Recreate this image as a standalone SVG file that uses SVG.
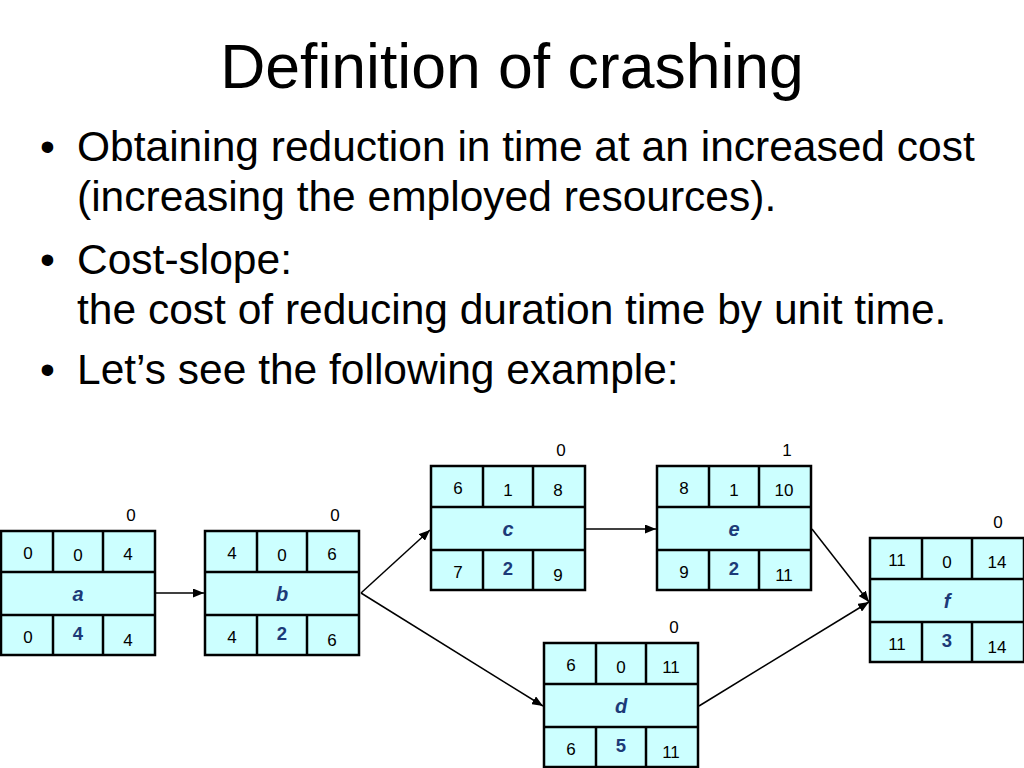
<svg xmlns="http://www.w3.org/2000/svg" xmlns:xlink="http://www.w3.org/1999/xlink" width="1024" height="768" viewBox="0 0 1024 768">
<style>
text { font-family: "Liberation Sans", Arial, sans-serif; }
.title { font-size: 62.5px; fill: #000; text-anchor: middle; }
.bul { font-size: 42.5px; fill: #000; }
.n { font-size: 17px; fill: #000; text-anchor: middle; }
.d { font-size: 18.5px; font-weight: bold; fill: #1c3a78; text-anchor: middle; }
.nm { font-size: 20px; font-weight: bold; font-style: italic; fill: #1c3a78; text-anchor: middle; }
.box { fill: #ccffff; stroke: #000; stroke-width: 2.5; }
.div { stroke: #000; stroke-width: 2.5; }
.conn { stroke: #000; stroke-width: 1.5; fill: none; marker-end: url(#arr); }
</style>
<defs>
<marker id="arr" markerUnits="userSpaceOnUse" markerWidth="11" markerHeight="9" refX="11" refY="4.5" orient="auto">
<path d="M0,0 L11,4.5 L0,9 z" fill="#000"/>
</marker>
<g id="frame">
<rect class="box" x="0" y="0" width="154" height="124"/>
<line class="div" x1="0" y1="41" x2="154" y2="41"/>
<line class="div" x1="0" y1="84" x2="154" y2="84"/>
<line class="div" x1="52" y1="0" x2="52" y2="41"/>
<line class="div" x1="102" y1="0" x2="102" y2="41"/>
<line class="div" x1="52" y1="84" x2="52" y2="124"/>
<line class="div" x1="102" y1="84" x2="102" y2="124"/>
</g>
</defs>
<rect x="0" y="0" width="1024" height="768" fill="#fff"/>
<text class="title" x="512" y="88">Definition of crashing</text>
<g id="bullets">
<text class="bul" x="40" y="161">•</text>
<text class="bul" x="77" y="161">Obtaining reduction in time at an increased cost</text>
<text class="bul" x="77" y="211">(increasing the employed resources).</text>
<text class="bul" x="40" y="274">•</text>
<text class="bul" x="77" y="274">Cost-slope:</text>
<text class="bul" x="77" y="324">the cost of reducing duration time by unit time.</text>
<text class="bul" x="40" y="384">•</text>
<text class="bul" x="77" y="384">Let’s see the following example:</text>
</g>
<g id="connectors">
<line class="conn" x1="155" y1="593" x2="204" y2="593"/>
<line class="conn" x1="361" y1="593" x2="430" y2="530"/>
<line class="conn" x1="361" y1="593" x2="543" y2="706"/>
<line class="conn" x1="585" y1="529" x2="656" y2="529"/>
<line class="conn" x1="812" y1="529" x2="869" y2="602"/>
<line class="conn" x1="699" y1="706" x2="869" y2="602"/>
</g>
<g id="node-a" transform="translate(1,531)">
<use xlink:href="#frame"/>
<text class="n" x="130" y="-10">0</text>
<text class="n" x="27" y="28">0</text><text class="n" x="77" y="30">0</text><text class="n" x="127" y="29">4</text>
<text class="nm" x="77" y="70">a</text>
<text class="n" x="27" y="112">0</text><text class="d" x="77" y="109">4</text><text class="n" x="127" y="115">4</text>
</g>
<g id="node-b" transform="translate(205,531)">
<use xlink:href="#frame"/>
<text class="n" x="130" y="-10">0</text>
<text class="n" x="27" y="28">4</text><text class="n" x="77" y="30">0</text><text class="n" x="127" y="29">6</text>
<text class="nm" x="77" y="70">b</text>
<text class="n" x="27" y="112">4</text><text class="d" x="77" y="109">2</text><text class="n" x="127" y="115">6</text>
</g>
<g id="node-c" transform="translate(431,466)">
<use xlink:href="#frame"/>
<text class="n" x="130" y="-10">0</text>
<text class="n" x="27" y="28">6</text><text class="n" x="77" y="30">1</text><text class="n" x="127" y="30">8</text>
<text class="nm" x="77" y="70">c</text>
<text class="n" x="27" y="112">7</text><text class="d" x="77" y="109">2</text><text class="n" x="127" y="115">9</text>
</g>
<g id="node-e" transform="translate(657,466)">
<use xlink:href="#frame"/>
<text class="n" x="130" y="-10">1</text>
<text class="n" x="27" y="28">8</text><text class="n" x="77" y="30">1</text><text class="n" x="127" y="30">10</text>
<text class="nm" x="77" y="70">e</text>
<text class="n" x="27" y="112">9</text><text class="d" x="77" y="109">2</text><text class="n" x="127" y="115">11</text>
</g>
<g id="node-d" transform="translate(544,643)">
<use xlink:href="#frame"/>
<text class="n" x="130" y="-10">0</text>
<text class="n" x="27" y="28">6</text><text class="n" x="77" y="30">0</text><text class="n" x="127" y="30">11</text>
<text class="nm" x="77" y="70">d</text>
<text class="n" x="27" y="112">6</text><text class="d" x="77" y="109">5</text><text class="n" x="127" y="115">11</text>
</g>
<g id="node-f" transform="translate(870,538)">
<use xlink:href="#frame"/>
<text class="n" x="128" y="-10">0</text>
<text class="n" x="27" y="28">11</text><text class="n" x="77" y="30">0</text><text class="n" x="127" y="30">14</text>
<text class="nm" x="77" y="70">f</text>
<text class="n" x="27" y="112">11</text><text class="d" x="77" y="109">3</text><text class="n" x="127" y="115">14</text>
</g>
</svg>
